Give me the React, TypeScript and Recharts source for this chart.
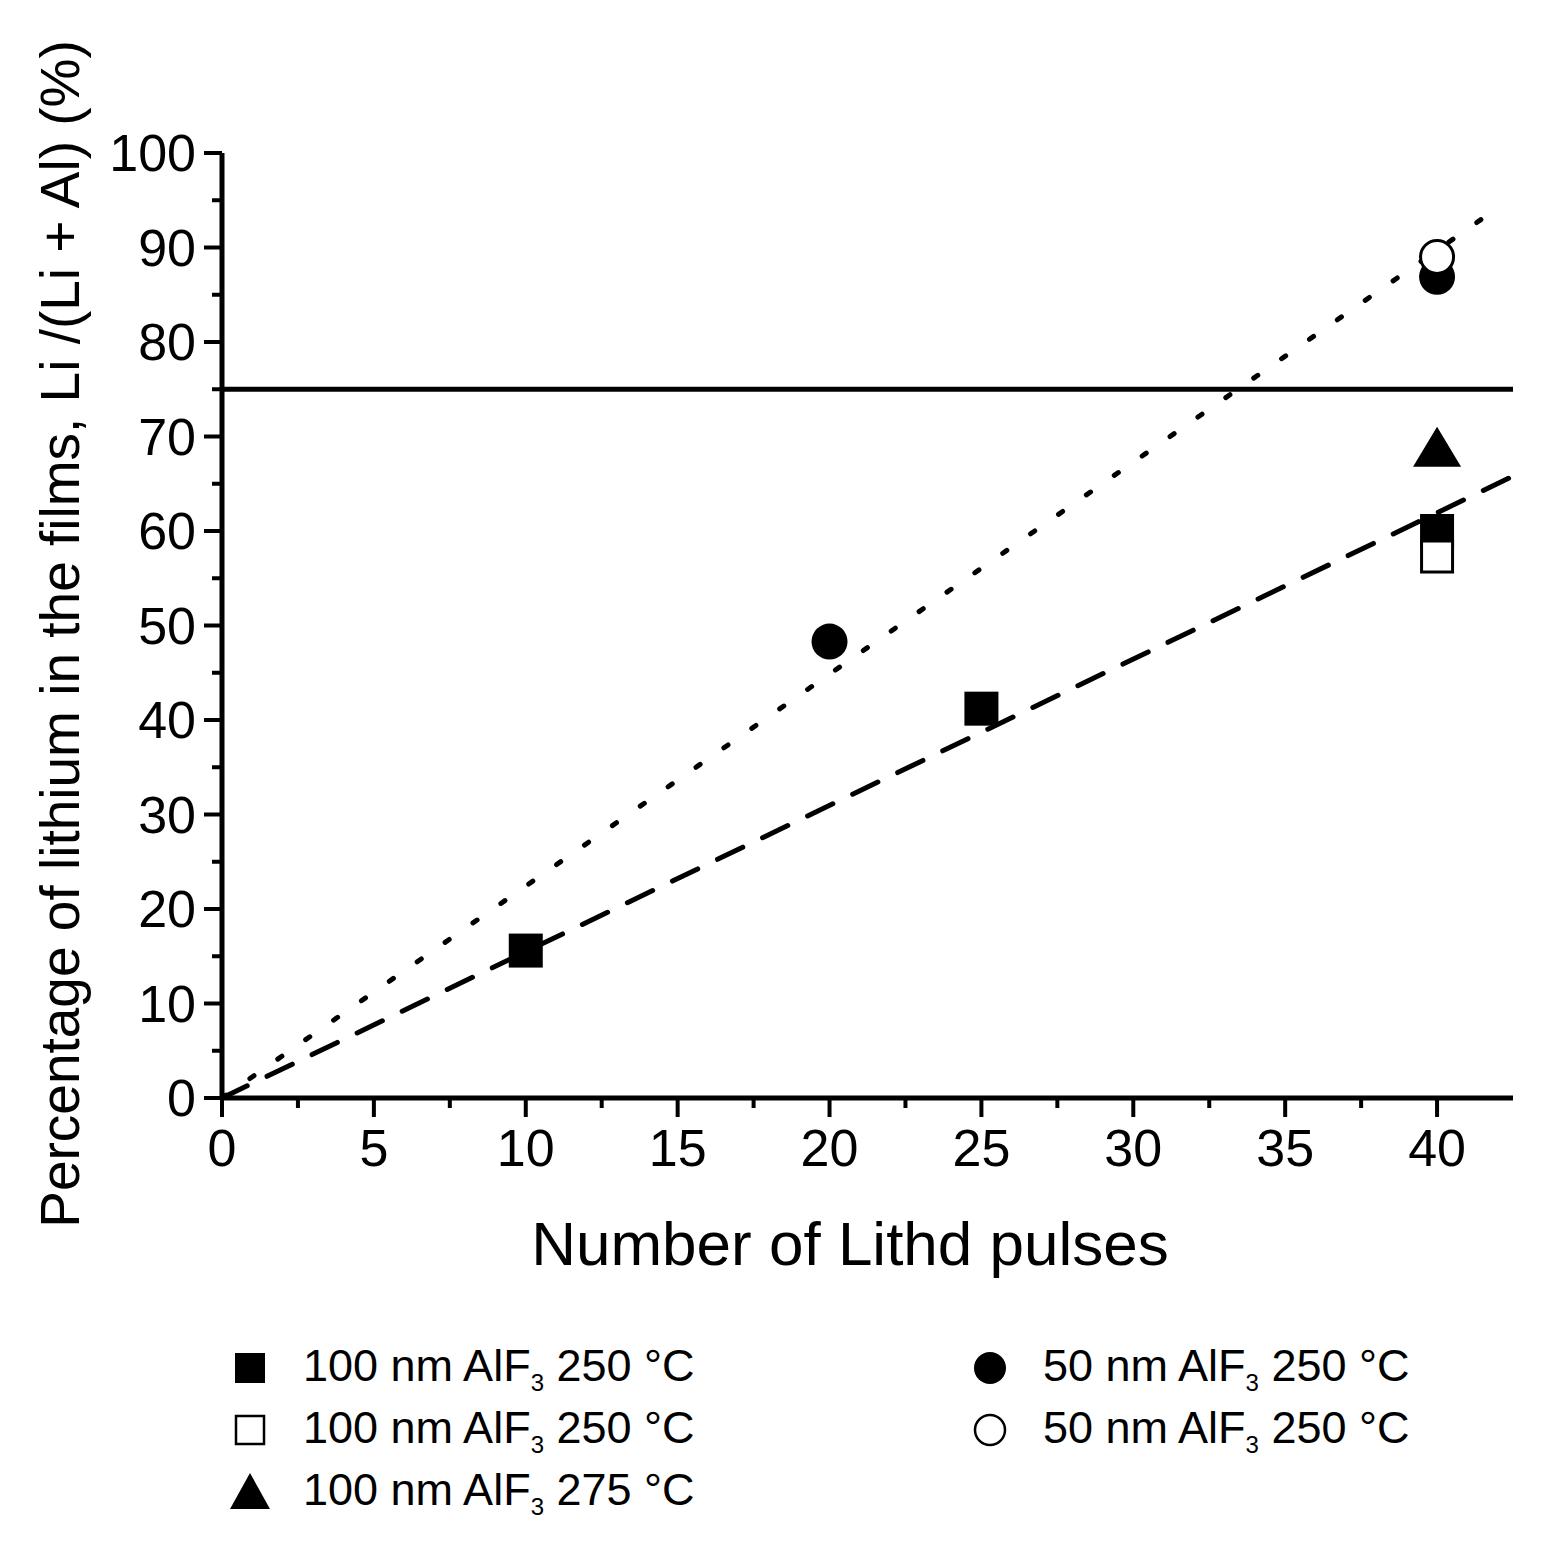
import React from "react";
import {
  ReferenceLine,
  Scatter,
  ScatterChart,
  XAxis,
  YAxis,
  Label,
} from "recharts";

type Pt = { x: number; y: number };

// measured points
const filledSquares: Pt[] = [
  { x: 10, y: 15.6 },
  { x: 25, y: 41.2 },
  { x: 40, y: 60 },
];
const openSquares: Pt[] = [{ x: 40, y: 57.3 }];
const triangles: Pt[] = [{ x: 40, y: 68.8 }];
const filledCircles: Pt[] = [
  { x: 20, y: 48.3 },
  { x: 40, y: 86.9 },
];
const openCircles: Pt[] = [{ x: 40, y: 89 }];

// guide lines
const stoichLevel = 75;
const dottedFit: Pt[] = [
  { x: 0, y: 0 },
  { x: 42, y: 94.2 },
];
const dashedFit: Pt[] = [
  { x: 0, y: 0 },
  { x: 42.5, y: 65.8 },
];

const xTicks = [0, 2.5, 5, 7.5, 10, 12.5, 15, 17.5, 20, 22.5, 25, 27.5, 30, 32.5, 35, 37.5, 40];
const yTicks = [0, 5, 10, 15, 20, 25, 30, 35, 40, 45, 50, 55, 60, 65, 70, 75, 80, 85, 90, 95, 100];

const legendLeft = [
  { mark: "fsq", text: "100 nm AlF", temp: "250" },
  { mark: "osq", text: "100 nm AlF", temp: "250" },
  { mark: "tri", text: "100 nm AlF", temp: "275" },
];
const legendRight = [
  { mark: "fci", text: "50 nm AlF", temp: "250" },
  { mark: "oci", text: "50 nm AlF", temp: "250" },
];

const FONT = "'Liberation Sans', Arial, sans-serif";
const SW = 5;
const TW = 4;

const XTick = (props: any) => {
  const { x, y, payload } = props;
  const major = payload.value % 5 === 0;
  return (
    <g>
      <line x1={x} x2={x} y1={y} y2={y + (major ? 19 : 10)} stroke="#000" strokeWidth={TW} />
      {major && (
        <text x={x} y={y + 68} textAnchor="middle" fontSize={52} fontFamily={FONT} fill="#000">
          {payload.value}
        </text>
      )}
    </g>
  );
};

const YTick = (props: any) => {
  const { x, y, payload } = props;
  const major = payload.value % 10 === 0;
  return (
    <g>
      <line x1={x} x2={x - (major ? 18 : 10)} y1={y} y2={y} stroke="#000" strokeWidth={TW} />
      {major && (
        <text x={x - 26} y={y + 18} textAnchor="end" fontSize={52} fontFamily={FONT} fill="#000">
          {payload.value}
        </text>
      )}
    </g>
  );
};

const FilledSquare = (p: any) => <rect x={p.cx - 17} y={p.cy - 17} width={34} height={34} fill="#000" />;
const OpenSquare = (p: any) => (
  <rect x={p.cx - 15.5} y={p.cy - 15.5} width={31} height={31} fill="#fff" stroke="#000" strokeWidth={3} />
);
const Triangle = (p: any) => (
  <polygon points={`${p.cx},${p.cy - 21} ${p.cx + 24},${p.cy + 19} ${p.cx - 24},${p.cy + 19}`} fill="#000" />
);
const FilledCircle = (p: any) => <circle cx={p.cx} cy={p.cy} r={18} fill="#000" />;
const OpenCircle = (p: any) => <circle cx={p.cx} cy={p.cy} r={16.5} fill="#fff" stroke="#000" strokeWidth={3} />;

function LegendMark({ kind }: { kind: string }) {
  return (
    <svg width={50} height={50} style={{ display: "block" }}>
      {kind === "fsq" && <rect x={10} y={10} width={30} height={30} fill="#000" />}
      {kind === "osq" && <rect x={11} y={11} width={28} height={28} fill="#fff" stroke="#000" strokeWidth={2.5} />}
      {kind === "tri" && <polygon points="25,6 45,42 5,42" fill="#000" />}
      {kind === "fci" && <circle cx={25} cy={25} r={16} fill="#000" />}
      {kind === "oci" && <circle cx={25} cy={25} r={15} fill="#fff" stroke="#000" strokeWidth={2.5} />}
    </svg>
  );
}

function LegendRow({ mark, text, temp }: { mark: string; text: string; temp: string }) {
  return (
    <div style={{ display: "flex", alignItems: "center", height: 62 }}>
      <LegendMark kind={mark} />
      <span style={{ marginLeft: 28, fontSize: 45, fontFamily: FONT, color: "#000", whiteSpace: "nowrap" }}>
        {text}
        <sub style={{ fontSize: 24 }}>3</sub> {temp} °C
      </span>
    </div>
  );
}

export default function App() {
  return (
    <div style={{ position: "absolute", left: 0, top: 0, width: 1548, height: 1551, background: "#fff" }}>
      <ScatterChart
        width={1548}
        height={1551}
        margin={{ top: 153, right: 35, left: 122, bottom: 353 }}
      >
        <XAxis
          type="number"
          dataKey="x"
          domain={[0, 42.5]}
          ticks={xTicks}
          interval={0}
          height={100}
          tickSize={0}
          tickMargin={0}
          tickLine={false}
          tick={<XTick />}
          axisLine={{ stroke: "#000", strokeWidth: SW }}
        >
          <Label
            content={() => (
              <text x={850} y={1265} textAnchor="middle" fontSize={62} fontFamily={FONT} fill="#000">
                Number of Lithd pulses
              </text>
            )}
          />
        </XAxis>
        <YAxis
          type="number"
          dataKey="y"
          domain={[0, 100]}
          ticks={yTicks}
          interval={0}
          width={100}
          tickSize={0}
          tickMargin={0}
          tickLine={false}
          tick={<YTick />}
          axisLine={{ stroke: "#000", strokeWidth: SW }}
        >
          <Label
            content={() => (
              <text
                x={79}
                y={634}
                transform="rotate(-90 79 634)"
                textAnchor="middle"
                fontSize={55}
                fontFamily={FONT}
                fill="#000"
              >
                Percentage of lithium in the films, Li /(Li + Al) (%)
              </text>
            )}
          />
        </YAxis>
        <Scatter data={filledSquares} shape={FilledSquare} isAnimationActive={false} />
        <Scatter data={openSquares} shape={OpenSquare} isAnimationActive={false} />
        <Scatter data={triangles} shape={Triangle} isAnimationActive={false} />
        <Scatter data={filledCircles} shape={FilledCircle} isAnimationActive={false} />
        <Scatter data={openCircles} shape={OpenCircle} isAnimationActive={false} />
        <ReferenceLine y={stoichLevel} stroke="#000" strokeWidth={SW} />
        <ReferenceLine
          segment={dottedFit}
          stroke="#000"
          strokeWidth={5}
          strokeDasharray="5 29"
          strokeLinecap="round"
        />
        <ReferenceLine
          segment={dashedFit}
          stroke="#000"
          strokeWidth={5}
          strokeDasharray="28 22"
          strokeLinecap="round"
        />
      </ScatterChart>
      <div style={{ position: "absolute", left: 225, top: 1337 }}>
        {legendLeft.map((r, i) => (
          <LegendRow key={i} {...r} />
        ))}
      </div>
      <div style={{ position: "absolute", left: 965, top: 1337 }}>
        {legendRight.map((r, i) => (
          <LegendRow key={i} {...r} />
        ))}
      </div>
    </div>
  );
}
